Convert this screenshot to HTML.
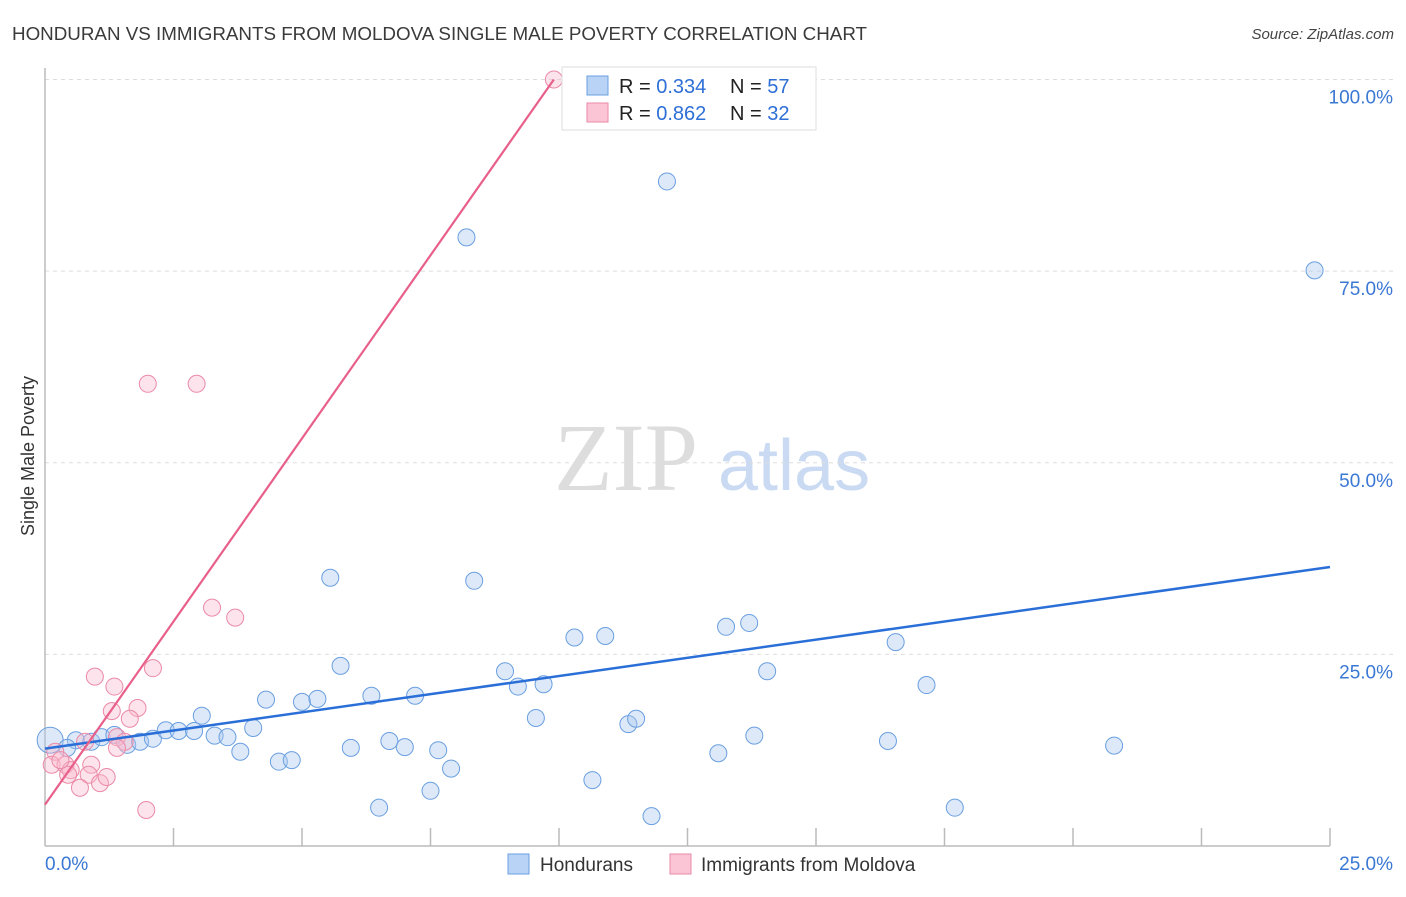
<!DOCTYPE html>
<html><head><meta charset="utf-8"><style>
body{margin:0;background:#fff;font-family:"Liberation Sans",sans-serif;}
svg text{font-family:"Liberation Sans",sans-serif;}
</style></head><body>
<svg id="chart" width="1406" height="892" xmlns="http://www.w3.org/2000/svg">
<text x="12" y="40" font-size="18.8" fill="#3a3a3a">HONDURAN VS IMMIGRANTS FROM MOLDOVA SINGLE MALE POVERTY CORRELATION CHART</text>
<text x="1394" y="39" font-size="15" fill="#444" text-anchor="end" font-style="italic">Source: ZipAtlas.com</text>
<g>
<text x="554" y="490" font-size="96" fill="#ddd" style="font-family:'Liberation Serif',serif">ZIP</text>
<text x="718" y="490" font-size="72" fill="#c9daf2">atlas</text>
</g>
<g id="grid"></g>
<g id="axes"></g>
<g id="pts"></g>
<g id="lines"></g>
<text x="34" y="456" font-size="18" fill="#333" transform="rotate(-90 34 456)" text-anchor="middle">Single Male Poverty</text>
<g>
<rect x="562" y="67" width="254" height="63" fill="#fff" stroke="#ddd"/>
<rect x="587" y="76" width="21" height="19" fill="#b8d3f5" stroke="#6a9fe0"/>
<rect x="587" y="103" width="21" height="19" fill="#fcc5d5" stroke="#eb8aa8"/>
<text x="619" y="93" font-size="20" fill="#222">R = <tspan fill="#2e6fd6">0.334</tspan></text>
<text x="730" y="93" font-size="20" fill="#222">N = <tspan fill="#2e6fd6">57</tspan></text>
<text x="619" y="120" font-size="20" fill="#222">R = <tspan fill="#2e6fd6">0.862</tspan></text>
<text x="730" y="120" font-size="20" fill="#222">N = <tspan fill="#2e6fd6">32</tspan></text>
</g>
<g>
<rect x="508" y="854" width="21" height="20" fill="#b8d3f5" stroke="#6a9fe0"/>
<text x="540" y="871" font-size="19" fill="#333">Hondurans</text>
<rect x="670" y="854" width="21" height="20" fill="#fcc5d5" stroke="#eb8aa8"/>
<text x="701" y="871" font-size="19" fill="#333">Immigrants from Moldova</text>
</g>
</svg>
<script>
const blueX=[0.1,0.6,0.43,0.9,1.1,1.35,1.6,1.85,2.1,2.35,2.6,2.9,3.05,3.3,3.55,3.8,4.05,4.3,4.55,4.8,5.0,5.3,5.55,5.75,5.95,6.35,6.5,6.7,7.0,7.2,7.5,7.65,7.9,8.2,8.35,8.95,9.2,9.55,9.7,10.3,10.65,10.9,11.35,11.5,11.8,12.1,13.1,13.25,13.7,13.8,14.05,16.4,16.55,17.15,17.7,20.8,24.7];
const blueY=[13.8,13.8,12.8,13.6,14.2,14.5,13.2,13.6,14.0,15.1,15.0,15.0,17.0,14.4,14.2,12.3,15.4,19.1,11.0,11.2,18.8,19.2,35.0,23.5,12.8,19.6,5.0,13.7,12.9,19.6,7.2,12.5,10.1,79.4,34.6,22.8,20.8,16.7,21.1,27.2,8.6,27.4,15.9,16.6,3.9,86.7,12.1,28.6,29.1,14.4,22.8,13.7,26.6,21.0,5.0,13.1,75.1];
const pinkX=[9.9,2.0,2.95,3.25,3.7,2.1,0.97,1.35,1.8,1.3,1.65,1.4,1.55,1.4,0.78,0.2,0.13,0.4,0.5,0.9,0.45,0.85,0.68,1.07,1.2,1.97,0.3];
const pinkY=[100,60.3,60.3,31.1,29.8,23.2,22.1,20.8,18.0,17.6,16.6,14.2,13.6,12.8,13.6,12.3,10.6,10.6,9.9,10.6,9.3,9.3,7.6,8.2,9.0,4.7,11.2];
const blueTrend=[0,12.7,25,36.4];
const pinkTrend=[0,5.4,9.9,100];
const yTicks=[25,50,75,100];
const yTickLabels=["25.0%","50.0%","75.0%","100.0%"];
const xTicks=[2.5,5,7.5,10,12.5,15,17.5,20,22.5,25];
const NS="http://www.w3.org/2000/svg";
const sx=v=>45+v/25*1285, sy=v=>846-v*7.665;
function mk(tag,attrs,parent){const e=document.createElementNS(NS,tag);for(const k in attrs)e.setAttribute(k,attrs[k]);document.getElementById(parent).appendChild(e);return e;}
yTicks.forEach((t,i)=>{
 const l=mk('line',{x1:45,x2:1393,y1:sy(t),y2:sy(t),stroke:'#ddd','stroke-dasharray':'4,4'},'grid');
 
 
 const tx=mk('text',{x:1393,y:sy(t)+24,'font-size':19,fill:'#3a78d4','text-anchor':'end'},'axes');
 tx.textContent=yTickLabels[i];
 
 
});
mk('line',{x1:45,x2:45,y1:68,y2:846,stroke:'#bbb','stroke-width':1.5},'axes');
mk('line',{x1:45,x2:1330,y1:846,y2:846,stroke:'#bbb','stroke-width':1.5},'axes');
xTicks.forEach(t=>{
 const l=mk('line',{x1:sx(t),x2:sx(t),y1:828,y2:846,stroke:'#bbb','stroke-width':1.5},'axes');
 
 
});
const x0=mk('text',{x:45,y:870,'font-size':19,fill:'#3a78d4'},'axes');x0.textContent="0.0%";


const x1=mk('text',{x:1393,y:870,'font-size':19,fill:'#3a78d4','text-anchor':'end'},'axes');x1.textContent="25.0%";


blueX.forEach((v,i)=>{
 const r=i==0?13:8.5;
 const c=mk('circle',{cx:sx(v),cy:sy(blueY[i]),r:r,fill:'rgba(170,200,240,0.4)',stroke:'#6a9fe0','stroke-width':1},'pts');
 
 
});
pinkX.forEach((v,i)=>{
 const c=mk('circle',{cx:sx(v),cy:sy(pinkY[i]),r:8.5,fill:'rgba(250,185,205,0.4)',stroke:'#eb8aa8','stroke-width':1},'pts');
 
 
});
const bl=mk('line',{x1:sx(blueTrend[0]),y1:sy(blueTrend[1]),x2:sx(blueTrend[2]),y2:sy(blueTrend[3]),stroke:'#2a6fd8','stroke-width':2.5},'lines');


const pl=mk('line',{x1:sx(pinkTrend[0]),y1:sy(pinkTrend[1]),x2:sx(pinkTrend[2]),y2:sy(pinkTrend[3]),stroke:'#e8608a','stroke-width':2.2},'lines');


</script>
</body></html>
